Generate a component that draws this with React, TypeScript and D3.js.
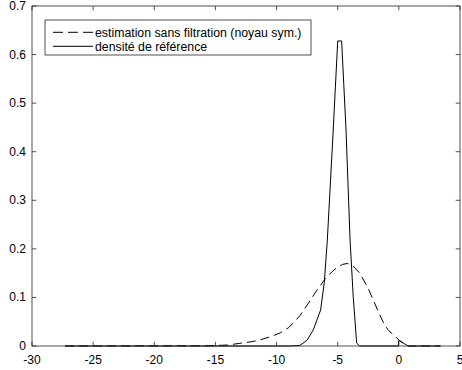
import React from "react";
import * as d3 from "d3";

const W = 462;
const H = 370;

const xTicks = [-30, -25, -20, -15, -10, -5, 0, 5];
const yTicks = [0, 0.1, 0.2, 0.3, 0.4, 0.5, 0.6, 0.7];

const estX = [-27.3, -16, -15, -14, -13, -12, -11.3, -10.5, -9.7, -9.0, -8.1, -7.4, -6.7, -6.0, -5.5, -5.0, -4.6, -4.2, -3.8, -3.2, -2.5, -2.1, -1.7, -1.3, -0.9, -0.6, -0.3, 0.0, 0.5, 0.8, 3.4];
const estY = [0, 0.0005, 0.001, 0.002, 0.0055, 0.009, 0.013, 0.019, 0.027, 0.038, 0.062, 0.088, 0.115, 0.139, 0.152, 0.163, 0.168, 0.17, 0.166, 0.15, 0.118, 0.095, 0.072, 0.05, 0.034, 0.026, 0.02, 0.012, 0.003, 0, 0];

const refX = [-27.3, -9.0, -8.1, -7.5, -7.0, -6.4, -6.1, -5.85, -5.41, -5.0, -4.68, -4.32, -3.99, -3.73, -3.45, -3.2, -0.05, 0.0, 0.75, 3.4];
const refY = [0, 0, 0.001, 0.012, 0.033, 0.074, 0.13, 0.218, 0.424, 0.628, 0.628, 0.445, 0.218, 0.101, 0.006, 0, 0, 0.012, 0, 0];

const legendLabels = ["estimation sans filtration (noyau sym.)", "densité de référence"];

export default function App() {
  const left = 32, right = 460, top = 6, bottom = 346;
  const x = d3.scaleLinear().domain([-30, 5]).range([left, right]);
  const y = d3.scaleLinear().domain([0, 0.7]).range([bottom, top]);
  const line = d3.line<[number, number]>().x((d) => x(d[0])).y((d) => y(d[1]));
  const est = line(estX.map((v, i) => [v, estY[i]]) as [number, number][]) || "";
  const ref = line(refX.map((v, i) => [v, refY[i]]) as [number, number][]) || "";
  const axisColor = "#262626";
  const tl = 4.3;
  const font = "'Liberation Sans', Arial, Helvetica, sans-serif";
  return (
    <div style={{ position: "absolute", left: 0, top: 0 }}>
      <svg width={W} height={H} style={{ display: "block", background: "#fff" }}>
        <rect x={left} y={top} width={right - left} height={bottom - top} fill="#fff" />
        <path d={ref} fill="none" stroke="#000" strokeWidth={1} />
        <path d={est} fill="none" stroke="#000" strokeWidth={1} strokeDasharray="9,5" />
        <rect x={left} y={top} width={right - left} height={bottom - top} fill="none" stroke={axisColor} strokeWidth={0.8} />
        {xTicks.map((t) => (
          <g key={"x" + t}>
            <line x1={x(t)} x2={x(t)} y1={bottom} y2={bottom - tl} stroke={axisColor} strokeWidth={0.8} />
            <line x1={x(t)} x2={x(t)} y1={top} y2={top + tl} stroke={axisColor} strokeWidth={0.8} />
            <text x={x(t)} y={bottom + 18} textAnchor="middle" fontFamily={font} fontSize={12} fill="#000">{t}</text>
          </g>
        ))}
        {yTicks.map((t) => (
          <g key={"y" + t}>
            <line x1={left} x2={left + tl} y1={y(t)} y2={y(t)} stroke={axisColor} strokeWidth={0.8} />
            <line x1={right} x2={right - tl} y1={y(t)} y2={y(t)} stroke={axisColor} strokeWidth={0.8} />
            <text x={left - 6} y={y(t) + 4} textAnchor="end" fontFamily={font} fontSize={12} fill="#000">{t}</text>
          </g>
        ))}
        <rect x={45} y={20} width={266} height={35} fill="#fff" stroke={axisColor} strokeWidth={0.8} />
        <line x1={53} x2={93} y1={32.3} y2={32.3} stroke="#000" strokeWidth={1} strokeDasharray="10,5" />
        <line x1={53} x2={93} y1={46.3} y2={46.3} stroke="#000" strokeWidth={1} />
        {legendLabels.map((l, i) => (
          <text key={l} x={95} y={36.5 + i * 14} fontFamily={font} fontSize={12.3} fill="#000">{l}</text>
        ))}
      </svg>
    </div>
  );
}
